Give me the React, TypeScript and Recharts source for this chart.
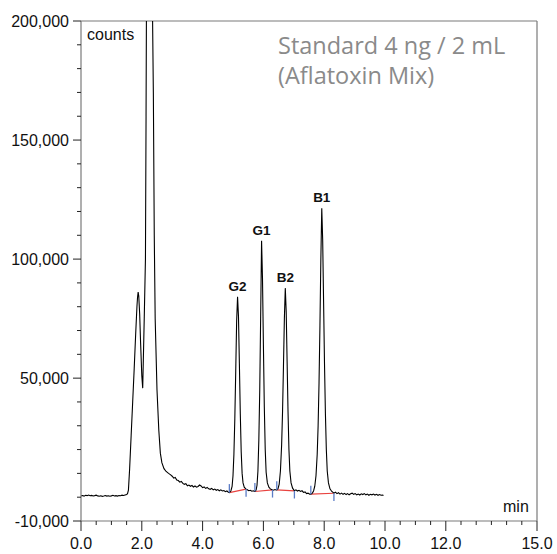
import { LineChart, Line, XAxis, YAxis, ReferenceLine, ReferenceDot } from 'recharts'

// chromatogram trace, [time (min), counts]
const leadIn: [number, number][] = [
  [0.0, 550], [0.05, 700], [0.1, 450], [0.15, 800], [0.2, 650], [0.25, 900], [0.3, 600], [0.35, 750],
  [0.4, 500], [0.45, 650], [0.5, 850], [0.55, 550], [0.6, 400], [0.65, 600], [0.7, 350], [0.75, 500],
  [0.8, 700], [0.85, 450], [0.9, 600], [0.95, 400], [1.0, 550], [1.05, 800], [1.1, 500], [1.15, 650],
  [1.2, 450], [1.25, 700], [1.3, 600], [1.35, 850], [1.4, 700], [1.45, 900], [1.5, 1100], [1.53, 1500],
]
const solventFront: [number, number][] = [
  [1.56, 3000], [1.6, 12000], [1.65, 26000], [1.7, 40000], [1.75, 54000], [1.8, 69000], [1.84, 80000],
  [1.86, 84000], [1.88, 86100], [1.9, 84500], [1.93, 77000], [1.96, 65000], [2.0, 51000], [2.03, 45800],
  [2.08, 75000], [2.12, 100000], [2.14, 160000], [2.16, 230000], [2.24, 520000], [2.33, 230000],
  [2.38, 170000], [2.41, 110000], [2.44, 75000], [2.5, 45000], [2.56, 28000], [2.61, 18500],
  [2.66, 14500], [2.73, 12000], [2.8, 10800], [2.88, 10000],
]
const solventTail: [number, number][] = [
  [2.95, 9400], [3.0, 8800], [3.05, 8000], [3.1, 8300], [3.15, 7200], [3.2, 7000], [3.25, 6300],
  [3.3, 6600], [3.35, 5800], [3.4, 5400], [3.45, 5700], [3.5, 4800], [3.55, 5100], [3.6, 4600],
  [3.65, 4900], [3.7, 4300], [3.75, 4700], [3.8, 4200], [3.85, 4500], [3.9, 5100], [3.95, 4700],
  [4.0, 4000], [4.05, 4300], [4.1, 3700], [4.15, 4100], [4.2, 3500], [4.25, 3300], [4.3, 3700],
  [4.35, 3100], [4.4, 3400], [4.45, 2900], [4.5, 3200], [4.55, 2700], [4.6, 3100], [4.65, 2600],
  [4.7, 2800], [4.75, 2300], [4.8, 2600], [4.85, 2100],
]
const peakG2: [number, number][] = [
  [4.88, 1900], [4.93, 2600], [4.97, 4500], [5.0, 9000], [5.03, 18000], [5.06, 33000], [5.09, 53000],
  [5.12, 74000], [5.15, 84200], [5.18, 76000], [5.21, 56000], [5.24, 35000], [5.27, 19000],
  [5.3, 10000], [5.33, 6000], [5.37, 4200], [5.42, 3500], [5.47, 3100], [5.52, 2700], [5.57, 2900],
  [5.62, 2500], [5.67, 2700], [5.71, 2400],
]
const peakG1: [number, number][] = [
  [5.76, 3000], [5.79, 5000], [5.82, 11000], [5.85, 24000], [5.88, 45000], [5.91, 76000],
  [5.94, 107700], [5.97, 92000], [6.0, 64000], [6.03, 38000], [6.06, 20000], [6.09, 10500],
  [6.13, 6000], [6.18, 4200], [6.23, 3500], [6.28, 3100], [6.33, 2900], [6.38, 3200], [6.42, 3050],
]
const peakB2: [number, number][] = [
  [6.48, 3600], [6.52, 5500], [6.56, 11000], [6.6, 22000], [6.63, 36000], [6.66, 55000], [6.69, 75000],
  [6.72, 87800], [6.75, 78000], [6.78, 57000], [6.81, 36000], [6.84, 20000], [6.87, 11000],
  [6.91, 6000], [6.96, 3800], [7.02, 2700], [7.07, 3100], [7.12, 2600], [7.17, 2900], [7.22, 2400],
  [7.27, 2700], [7.32, 2000], [7.37, 2200], [7.42, 1500], [7.47, 1700], [7.52, 1300],
]
const peakB1: [number, number][] = [
  [7.56, 1250], [7.61, 1700], [7.65, 2600], [7.69, 4600], [7.73, 9000], [7.77, 18000], [7.8, 30000],
  [7.83, 48000], [7.86, 72000], [7.89, 100000], [7.92, 121400], [7.95, 108000], [7.98, 82000],
  [8.01, 56000], [8.04, 35000], [8.07, 20000], [8.1, 11000], [8.14, 6000], [8.19, 3500],
  [8.25, 2400], [8.32, 1700],
]
const tailOut: [number, number][] = [
  [8.37, 2100], [8.42, 1500], [8.47, 1900], [8.52, 1300], [8.57, 1700], [8.62, 1200], [8.67, 1600],
  [8.72, 1100], [8.77, 1500], [8.82, 1000], [8.87, 1400], [8.92, 1700], [8.97, 1200], [9.02, 1500],
  [9.07, 1000], [9.12, 1300], [9.17, 900], [9.22, 1400], [9.27, 1100], [9.32, 1500], [9.37, 1000],
  [9.42, 1300], [9.47, 800], [9.52, 1200], [9.57, 1000], [9.62, 1300], [9.67, 900], [9.72, 1200],
  [9.77, 800], [9.82, 1100], [9.87, 800], [9.92, 900], [9.95, 700],
]

// integration baseline (start / end of each peak)
const integStart: [number, number][] = [[4.88, 1900], [5.72, 2400], [6.44, 3050], [7.56, 1250]]
const integEnd: [number, number][] = [[5.43, 3400], [6.3, 3050], [7.02, 2650], [8.32, 1650]]

const peakNames = ['G2', 'G1', 'B2', 'B1']
const peakTimes = [5.15, 5.94, 6.72, 7.92]
const peakHeights = [84200, 107700, 87800, 121400]

const xTicks = [0, 0.5, 1, 1.5, 2, 2.5, 3, 3.5, 4, 4.5, 5, 5.5, 6, 6.5, 7, 7.5, 8, 8.5, 9, 9.5, 10,
  10.5, 11, 11.5, 12, 12.5, 13, 13.5, 14, 14.5, 15]
const xMajor = [0, 2, 4, 6, 8, 10, 12, 15]
const yTicks = [-10000, 0, 10000, 20000, 30000, 40000, 50000, 60000, 70000, 80000, 90000, 100000,
  110000, 120000, 130000, 140000, 150000, 160000, 170000, 180000, 190000, 200000]
const yMajor = [-10000, 50000, 100000, 150000, 200000]

const trace = [...leadIn, ...solventFront, ...solventTail, ...peakG2, ...integStart.slice(1, 2),
  ...peakG1, ...integStart.slice(2, 3), ...peakB2, ...peakB1, ...tailOut].map(([t, v]) => ({ t, v }))

const FONT = '"Liberation Sans", Arial, Helvetica, sans-serif'
const FRAME = '#7a7a7a'
const MARK_UP = 3600
const MARK_DOWN = 3200

const XTick = (props: any) => {
  const { x, y, payload } = props
  const major = xMajor.includes(payload.value)
  return (
    <g>
      <line x1={x} x2={x} y1={y} y2={y + (major ? 10 : 4)} stroke="#222" strokeWidth={1} />
      {major && (
        <text x={x} y={y + 28} textAnchor="middle" fontSize={16} fontFamily={FONT} fill="#111">
          {payload.value.toFixed(1)}
        </text>
      )}
    </g>
  )
}

const YTick = (props: any) => {
  const { x, y, payload } = props
  const major = yMajor.includes(payload.value)
  return (
    <g>
      <line x1={x - (major ? 8 : 4)} x2={x} y1={y} y2={y} stroke="#222" strokeWidth={1} />
      {major && (
        <text x={x - 12} y={y} dy="0.35em" textAnchor="end" fontSize={16} fontFamily={FONT} fill="#111">
          {payload.value.toLocaleString('en-US')}
        </text>
      )}
    </g>
  )
}

export default function App() {
  return (
    <div style={{ position: 'absolute', left: 0, top: 0, width: 557, height: 554, background: '#fff' }}>
      <LineChart width={557} height={554} data={trace} margin={{ top: 21, right: 20, bottom: 0, left: 0 }}>
        <XAxis
          dataKey="t"
          type="number"
          domain={[0, 15]}
          ticks={xTicks}
          interval={0}
          allowDataOverflow
          height={33}
          tickSize={0}
          tickMargin={0}
          tickLine={false}
          axisLine={{ stroke: FRAME, strokeWidth: 1.2 }}
          tick={<XTick />}
        />
        <YAxis
          dataKey="v"
          type="number"
          domain={[-10000, 200000]}
          ticks={yTicks}
          interval={0}
          allowDataOverflow
          width={81}
          tickSize={0}
          tickMargin={0}
          tickLine={false}
          axisLine={{ stroke: FRAME, strokeWidth: 1.2 }}
          tick={<YTick />}
        />
        <ReferenceLine y={200000} stroke={FRAME} strokeWidth={1.2} />
        <ReferenceLine x={15} stroke={FRAME} strokeWidth={1.2} />
        {integStart.map((s, i) => (
          <ReferenceLine
            key={'b' + i}
            segment={[{ x: s[0], y: s[1] }, { x: integEnd[i][0], y: integEnd[i][1] }]}
            stroke="#e8423f"
            strokeWidth={1.2}
          />
        ))}
        <Line
          type="linear"
          dataKey="v"
          stroke="#000"
          strokeWidth={1.1}
          dot={false}
          isAnimationActive={false}
        />
        {integStart.map((s, i) => (
          <ReferenceLine
            key={'s' + i}
            segment={[{ x: s[0], y: s[1] }, { x: s[0], y: s[1] + MARK_UP }]}
            stroke="#5b7cc6"
            strokeWidth={1.3}
          />
        ))}
        {integEnd.map((s, i) => (
          <ReferenceLine
            key={'e' + i}
            segment={[{ x: s[0], y: s[1] }, { x: s[0], y: s[1] - MARK_DOWN }]}
            stroke="#5b7cc6"
            strokeWidth={1.3}
          />
        ))}
        {peakNames.map((name, i) => (
          <ReferenceDot
            key={name}
            x={peakTimes[i]}
            y={peakHeights[i]}
            r={0}
            fill="none"
            stroke="none"
            label={{
              value: name,
              position: 'top',
              offset: 6,
              fontSize: 13.5,
              fontWeight: 'bold',
              fontFamily: FONT,
              fill: '#111',
            }}
          />
        ))}
      </LineChart>
      <div style={{ position: 'absolute', left: 87, top: 27, fontSize: 16, lineHeight: '16px', fontFamily: FONT, color: '#111' }}>
        counts
      </div>
      <div style={{ position: 'absolute', left: 503, top: 499, fontSize: 16, lineHeight: '16px', fontFamily: FONT, color: '#111' }}>
        min
      </div>
      <div
        style={{
          position: 'absolute',
          left: 278,
          top: 30,
          fontSize: 23.5,
          lineHeight: '30px',
          fontFamily: '"Open Sans", sans-serif',
          color: '#8a8a8a',
          whiteSpace: 'nowrap',
        }}
      >
        <div>Standard 4 ng / 2 mL</div>
        <div>(Aflatoxin Mix)</div>
      </div>
    </div>
  )
}
